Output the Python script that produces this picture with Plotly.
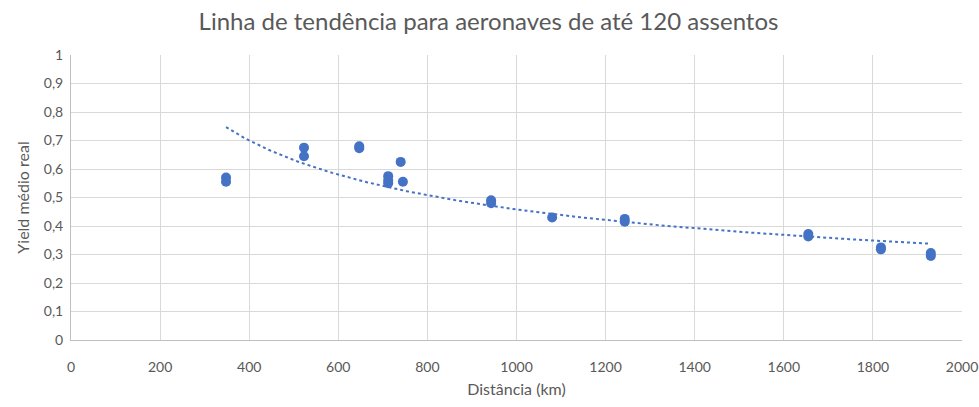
import numpy as np
import plotly.graph_objects as go

distancia = [348, 348, 523, 523, 647, 647, 712, 712, 712, 740, 745, 943, 943, 1080, 1243, 1243, 1655, 1655, 1818, 1818, 1930, 1930]
yield_real = [0.57, 0.555, 0.675, 0.645, 0.68, 0.673, 0.575, 0.56, 0.55, 0.625, 0.555, 0.49, 0.48, 0.43, 0.425, 0.415, 0.372, 0.363, 0.325, 0.318, 0.305, 0.295]

x = np.array(distancia, dtype=float)
y = np.array(yield_real, dtype=float)
k, lnc = np.polyfit(np.log(x), np.log(y), 1)
xt = np.linspace(x.min(), x.max(), 200)
yt = np.exp(lnc) * xt ** k

blue = "#4472C4"
grey = "#595959"
font = "Lato"

fig = go.Figure()
fig.add_trace(go.Scatter(x=xt, y=yt, mode="lines", line=dict(color=blue, width=2, dash="dot"),
                         hoverinfo="skip", showlegend=False))
fig.add_trace(go.Scatter(x=distancia, y=yield_real, mode="markers",
                         marker=dict(color=blue, size=10), showlegend=False))

fig.update_layout(
    width=979, height=407,
    margin=dict(l=71, r=17, t=55, b=67, autoexpand=False),
    paper_bgcolor="white", plot_bgcolor="white",
    separators=", ",
    font=dict(family=font, color=grey, size=14),
    title=dict(text="Linha de tendência para aeronaves de até 120 assentos",
               x=0.499, xanchor="center", y=0.948, yanchor="middle",
               font=dict(family=font, size=24, color=grey)),
    xaxis=dict(range=[0, 2000], dtick=200, tick0=0, showgrid=True, gridcolor="#d9d9d9",
               gridwidth=1, zeroline=False, showline=True, linecolor="#bfbfbf", linewidth=1,
               ticks="", tickfont=dict(size=14, color=grey), ticklabelstandoff=14,
               automargin=False,
               title=dict(text="Distância (km)", font=dict(size=16, color=grey), standoff=10)),
    yaxis=dict(range=[0, 1], dtick=0.1, tick0=0, showgrid=True, gridcolor="#d9d9d9",
               gridwidth=1, zeroline=False, showline=True, linecolor="#bfbfbf", linewidth=1,
               ticks="", tickfont=dict(size=14, color=grey), ticklabelstandoff=4,
               automargin=False,
               title=dict(text="Yield médio real", font=dict(size=16, color=grey), standoff=10)),
)
fig.write_html("out.html", config={"displayModeBar": False},
               post_script="document.body.style.margin='0';document.body.style.overflow='hidden';")
